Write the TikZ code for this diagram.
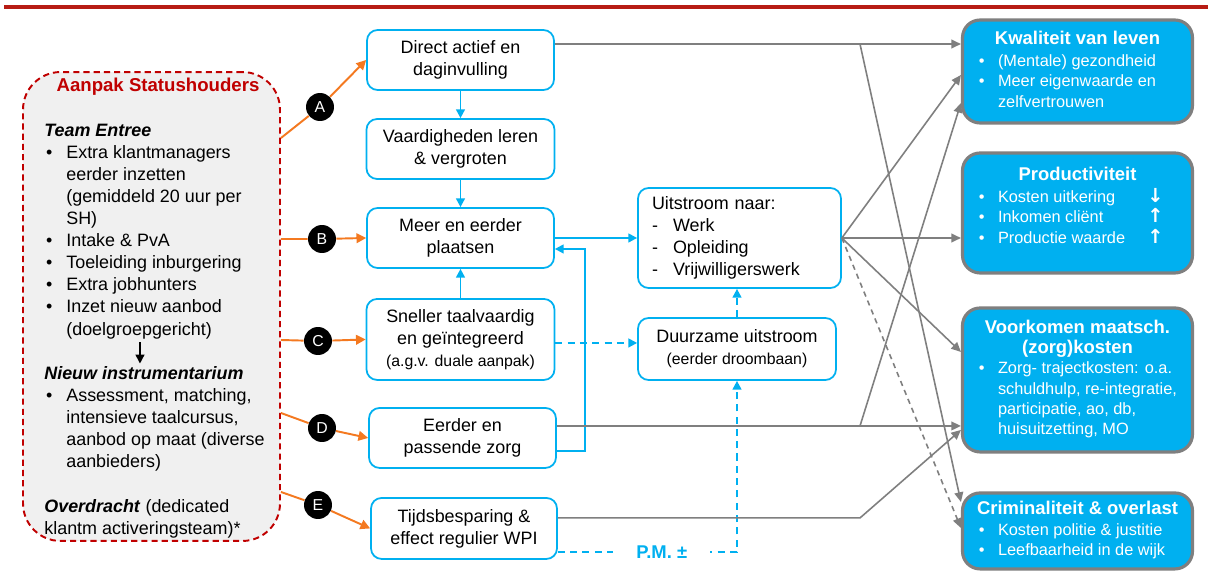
\documentclass[tikz,border=0pt]{standalone}
\usepackage{fontspec}
\setmainfont{Liberation Sans}
\newfontfamily\arrowfont{DejaVu Sans}
\usepackage{array}
\usepackage{xcolor}
\usepackage{tikz}
\usetikzlibrary{arrows.meta, positioning, calc}
\definecolor{mkbacolor0}{HTML}{00B0F0}
\definecolor{mkbacolor1}{HTML}{7F7F7F}
\definecolor{mkbacolor2}{HTML}{F47920}
\definecolor{mkbacolor3}{HTML}{C00000}
\definecolor{mkbacolor4}{HTML}{F0F0F0}
\definecolor{mkbacolor5}{HTML}{B71C14}
\newcommand{\listbul}{\hspace*{1pt}\textbullet}
\newcommand{\trendsign}[1]{\hfill\makebox[0.9cm]{\arrowfont\bfseries\fontsize{11}{11}\selectfont #1}}
\tikzset{
  box_step/.style={draw=mkbacolor0, fill=white, line width=1pt, rounded corners=6pt, align=center, inner sep=0pt, font=\fontsize{10.2}{12.6}\selectfont},
  box_effect/.style={draw=mkbacolor1, fill=mkbacolor0, text=white, line width=1.8pt, rounded corners=10pt, minimum width=4.6cm, inner sep=0pt, font=\fontsize{9.3}{11.6}\selectfont},
  box_aanpak/.style={draw=mkbacolor3, fill=mkbacolor4, dash pattern=on 3.5pt off 2.3pt, line width=1.1pt, rounded corners=0.75cm},
  list_text/.style={anchor=north west, inner sep=0pt, font=\fontsize{10.2}{12.57}\selectfont},
  letter_badge/.style={circle, fill=black, text=white, minimum size=0.56cm, inner sep=0pt, font=\fontsize{9}{10}\selectfont},
  edge_orange/.style={draw=mkbacolor2, line width=1.1pt},
  dep_orange/.style={edge_orange, -{Triangle[length=5.5pt,width=5.5pt]}},
  dep_blue/.style={draw=mkbacolor0, line width=1.1pt, -{Triangle[length=5pt,width=5pt]}},
  dep_blue_dashed/.style={dep_blue, dash pattern=on 4pt off 3pt},
  dep_gray/.style={draw=mkbacolor1, line width=0.9pt, -{Triangle[length=5.5pt,width=5pt]}},
  dep_gray_dashed/.style={dep_gray, dash pattern=on 3pt off 2.5pt},
  dep_list/.style={draw=black, line width=0.8pt, -{Triangle[length=5pt,width=5pt]}},
  pm_label/.style={fill=white, text=mkbacolor0, font=\bfseries\fontsize{10.5}{12}\selectfont, inner xsep=0.46cm, inner ysep=1pt},
  title_rule/.style={draw=mkbacolor5, line width=1.8pt}
}

\begin{document}
\begin{tikzpicture}[x=0.02cm, y=-0.02cm]
\path[use as bounding box, fill=white] (0,0) rectangle (1208,571);
\draw[title_rule] (4,7) -- (1208,7);

\node[box_aanpak, minimum width=5.14cm, minimum height=9.38cm] (aanpak_box) at (151.5,306.5) {};
\node[anchor=base, text=mkbacolor3, font=\bfseries\fontsize{10.6}{12}\selectfont] (aanpak_title) at (158,92) {Aanpak Statushouders};
\node[list_text] (team_list) at (44,120.5) {\begin{tabular}{@{}p{0.44cm}@{}l@{}}
\multicolumn{2}{@{}l}{\textbf{\textit{Team Entree}}}\\
\listbul & Extra klantmanagers\\
 & eerder inzetten\\
 & (gemiddeld 20 uur per\\
 & SH)\\
\listbul & Intake \& PvA\\
\listbul & Toeleiding inburgering\\
\listbul & Extra jobhunters\\
\listbul & Inzet nieuw aanbod\\
 & (doelgroepgericht)
\end{tabular}};
\node[list_text] (instr_list) at (44,363.5) {\begin{tabular}{@{}p{0.44cm}@{}l@{}}
\multicolumn{2}{@{}l}{\textbf{\textit{Nieuw instrumentarium}}}\\
\listbul & Assessment, matching,\\
 & intensieve taalcursus,\\
 & aanbod op maat (diverse\\
 & aanbieders)
\end{tabular}};
\node[list_text] (overdracht_text) at (44,496.5) {\begin{tabular}{@{}l@{}}
\textbf{\textit{Overdracht}} (dedicated\\
klantm activeringsteam)*
\end{tabular}};
\draw[dep_list] ([xshift=1.92cm]team_list.south west) -- ([xshift=1.92cm]instr_list.north west);

\node[box_step, minimum width=3.74cm, minimum height=1.2cm] (direct_node) at (460.5,60) {Direct actief en\\daginvulling};
\node[box_step, minimum width=3.76cm, minimum height=1.2cm, below=0.545cm of direct_node] (vaardig_node) {Vaardigheden leren\\\& vergroten};
\node[box_step, minimum width=3.74cm, minimum height=1.2cm, below=0.545cm of vaardig_node] (meer_node) {Meer en eerder\\plaatsen};
\node[box_step, minimum width=3.76cm, minimum height=1.62cm, below=0.585cm of meer_node] (sneller_node) {Sneller taalvaardig\\en geïntegreerd\\{\fontsize{9}{12.6}\selectfont(a.g.v. duale aanpak)}};
\node[box_step, minimum width=3.74cm, minimum height=1.2cm, below=0.525cm of sneller_node, xshift=0.04cm] (eerder_node) {Eerder en\\passende zorg};
\node[box_step, minimum width=3.72cm, minimum height=1.22cm, below=0.565cm of eerder_node, xshift=0.03cm] (tijds_node) {Tijdsbesparing \&\\effect regulier WPI};

\node[box_step, minimum width=4.06cm, minimum height=2.0cm, text width=3.5cm, align=left, inner xsep=0.28cm] (uitstroom_node) at (739.5,238) {\begin{tabular}{@{}p{0.42cm}@{}l@{}}
\multicolumn{2}{@{}l}{Uitstroom naar:}\\
- & Werk\\
- & Opleiding\\
- & Vrijwilligerswerk
\end{tabular}};
\node[box_step, minimum width=3.96cm, minimum height=1.24cm, below=0.565cm of uitstroom_node, xshift=-0.05cm] (duurzame_node) {Duurzame uitstroom\\{\fontsize{9}{12.6}\selectfont(eerder droombaan)}};

\node[box_effect, minimum height=2.06cm] (kwaliteit_node) at (1077.5,71.5) {\begin{tabular}{@{}p{0.42cm}@{}p{3.6cm}@{}}
\multicolumn{2}{@{}c@{}}{\bfseries\fontsize{10.5}{11.6}\selectfont Kwaliteit van leven}\\[1pt]
\listbul & (Mentale) gezondheid\\
\listbul & Meer eigenwaarde en\\
 & zelfvertrouwen
\end{tabular}};
\node[box_effect, minimum height=2.4cm, below=0.537cm of kwaliteit_node] (productiviteit_node) {\begin{tabular}{@{}p{0.42cm}@{}p{3.6cm}@{}}
\multicolumn{2}{@{}c@{}}{\bfseries\fontsize{10.5}{11.6}\selectfont Productiviteit}\\[1pt]
\listbul & Kosten uitkering\trendsign{↓}\\
\listbul & Inkomen cliënt\trendsign{↑}\\
\listbul & Productie waarde\trendsign{↑}\\[6pt]
\end{tabular}};
\node[box_effect, minimum height=2.88cm, below=0.637cm of productiviteit_node] (voorkomen_node) {\begin{tabular}{@{}p{0.42cm}@{}p{3.6cm}@{}}
\multicolumn{2}{@{}c@{}}{\bfseries\fontsize{10.5}{12.8}\selectfont Voorkomen maatsch.}\\
\multicolumn{2}{@{}c@{}}{\bfseries\fontsize{10.5}{12.8}\selectfont (zorg)kosten}\\
\listbul & Zorg- trajectkosten: o.a.\\
 & schuldhulp, re-integratie,\\
 & participatie, ao, db,\\
 & huisuitzetting, MO
\end{tabular}};
\node[box_effect, minimum height=1.52cm, below=0.757cm of voorkomen_node] (criminaliteit_node) {\begin{tabular}{@{}p{0.42cm}@{}p{3.6cm}@{}}
\multicolumn{2}{@{}c@{}}{\bfseries\fontsize{10.5}{11.6}\selectfont Criminaliteit \& overlast}\\
\listbul & Kosten politie \& justitie\\
\listbul & Leefbaarheid in de wijk
\end{tabular}};

\node[letter_badge] (letter_a) at (320,107) {A};
\node[letter_badge] (letter_b) at (322,239) {B};
\node[letter_badge] (letter_c) at (318,341) {C};
\node[letter_badge] (letter_d) at (322,428) {D};
\node[letter_badge] (letter_e) at (318,505) {E};

\draw[edge_orange] ([yshift=3.37cm]aanpak_box.east) -- (letter_a);
\draw[dep_orange] (letter_a) -- (direct_node.west);
\draw[edge_orange] ([yshift=1.35cm]aanpak_box.east) -- (letter_b);
\draw[dep_orange] (letter_b) -- (meer_node.west);
\draw[edge_orange] ([yshift=-0.67cm]aanpak_box.east) -- (letter_c);
\draw[dep_orange] (letter_c) -- (sneller_node.west);
\draw[edge_orange] ([yshift=-2.13cm]aanpak_box.east) -- (letter_d);
\draw[dep_orange] (letter_d) -- (eerder_node.west);
\draw[edge_orange] ([yshift=-3.71cm]aanpak_box.east) -- (letter_e);
\draw[dep_orange] (letter_e) -- (tijds_node.west);

\draw[dep_blue] (direct_node) -- (vaardig_node);
\draw[dep_blue] (vaardig_node) -- (meer_node);
\draw[dep_blue] (sneller_node.north) -- (sneller_node.north |- meer_node.south);
\draw[dep_blue] (meer_node.east) -- (meer_node.east -| uitstroom_node.west);
\draw[dep_blue] ([yshift=-0.26cm]eerder_node.east) -- ++(0.56cm,0) |- ([yshift=-0.22cm]meer_node.east);
\draw[dep_blue_dashed] ([yshift=-0.07cm]sneller_node.east) -- ([yshift=-0.07cm]sneller_node.east -| duurzame_node.west);
\draw[dep_blue_dashed] (duurzame_node.north) -- (duurzame_node.north |- uitstroom_node.south);
\draw[dep_blue_dashed] ([yshift=-0.47cm]tijds_node.east) -- node[pm_label, pos=0.58] (pm_node) {P.M. ±} ([yshift=-0.47cm]tijds_node.east -| duurzame_node.south) -- (duurzame_node.south);

\coordinate (split_x) at (860,0);
\coordinate (direct_out) at ([yshift=0.32cm]direct_node.east);
\coordinate (eerder_out) at ([yshift=0.24cm]eerder_node.east);
\coordinate (tijds_out) at ([yshift=0.21cm]tijds_node.east);
\draw[dep_gray] (direct_out) -- (direct_out -| kwaliteit_node.west);
\draw[dep_gray] (direct_out -| split_x) -- ([yshift=0.58cm]criminaliteit_node.west);
\draw[dep_gray] (uitstroom_node.east) -- ([yshift=-0.07cm]kwaliteit_node.west);
\draw[dep_gray] (uitstroom_node.east) -- (uitstroom_node.east -| productiviteit_node.west);
\draw[dep_gray] (uitstroom_node.east) -- ([yshift=0.56cm]voorkomen_node.west);
\draw[dep_gray_dashed] (uitstroom_node.east) -- ([yshift=0.06cm]criminaliteit_node.west);
\draw[dep_gray] (eerder_out) -- (eerder_out -| voorkomen_node.west);
\draw[dep_gray] (eerder_out -| split_x) -- ([yshift=-0.63cm]kwaliteit_node.west);
\draw[dep_gray] (tijds_out) -- (tijds_out -| split_x) -- ([yshift=-1.0cm]voorkomen_node.west);
\end{tikzpicture}
\end{document}
